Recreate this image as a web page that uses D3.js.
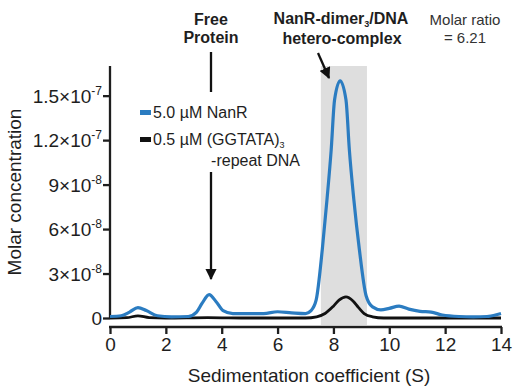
<!DOCTYPE html>
<html>
<head>
<meta charset="utf-8">
<script src="https://cdn.jsdelivr.net/npm/d3@7"></script>
<style>
  body { margin: 0; background: #fff; }
  svg { display: block; font-family: "Liberation Sans", Arial, sans-serif; }
</style>
</head>
<body>
<div class="chart"></div>
<script>
// sedimentation coefficient (S) and concentration in units of 1e-8 M
const nanrS = [0, 0.4, 0.7, 1.0, 1.3, 1.7, 2.2, 2.8, 3.1, 3.3, 3.55, 3.8, 4.05, 4.4, 5.0, 5.5, 6.0, 6.5, 7.0, 7.2, 7.38, 7.6, 7.77, 7.92, 8.04, 8.24, 8.45, 8.57, 8.73, 8.93, 9.17, 9.4, 9.7, 10.0, 10.35, 10.7, 11.1, 11.5, 11.9, 12.5, 13.0, 13.5, 13.9, 14];
const nanrConc = [0.1, 0.15, 0.4, 0.7, 0.5, 0.15, 0.08, 0.1, 0.4, 1.0, 1.58, 1.1, 0.5, 0.3, 0.3, 0.3, 0.42, 0.35, 0.3, 0.5, 1.2, 4.6, 8, 11.35, 14.7, 16.0, 14.7, 11.35, 8, 4.6, 1.5, 0.75, 0.55, 0.65, 0.8, 0.6, 0.45, 0.4, 0.2, 0.1, 0.08, 0.1, 0.25, 0.3];

const dnaS = [0, 0.6, 1.0, 1.4, 2.0, 3.5, 5.0, 7.0, 7.4, 7.7, 8.0, 8.2, 8.45, 8.7, 8.9, 9.1, 9.4, 9.8, 12, 14];
const dnaConc = [0, 0.02, 0.15, 0.03, 0, 0.03, 0, 0, 0.08, 0.3, 0.8, 1.2, 1.42, 1.15, 0.7, 0.3, 0.08, 0, 0, 0];

const xTicks = [0, 2, 4, 6, 8, 10, 12, 14];
const yTicks = [0, 3, 6, 9, 12, 15];
const yTickMantissa = ["0", "3", "6", "9", "1.2", "1.5"];
const yTickExp = ["", "-8", "-8", "-8", "-7", "-7"];
const complexBand = [7.55, 9.2];

const width = 519, height = 390;
const blue = "#2b7cc1";
const ink = "#1e1e1e";

const x = d3.scaleLinear().domain([0, 14]).range([110, 501]);
const y = d3.scaleLinear().domain([0, 17]).range([318, 66]);

const svg = d3.select(".chart").append("svg")
  .attr("width", width)
  .attr("height", height);

// shaded complex region
svg.append("rect")
  .attr("x", x(complexBand[0]))
  .attr("y", y(17))
  .attr("width", x(complexBand[1]) - x(complexBand[0]))
  .attr("height", 325 - y(17))
  .attr("fill", "#dedede");

// y axis
const yAxisG = svg.append("g").attr("transform", "translate(110,0)");
yAxisG.call(d3.axisLeft(y).tickValues(d3.range(0, 17.01, 0.5)).tickSize(4).tickFormat(""));
yAxisG.call(d3.axisLeft(y).tickValues(yTicks).tickSize(7).tickSizeOuter(0).tickFormat(""));
yAxisG.selectAll("path, line").attr("stroke", ink).attr("stroke-width", 2.3);
yAxisG.selectAll(".domain").attr("d", `M0,${y(17)}V${y(0) + 1}`);
yAxisG.selectAll(".tick text").remove();

const yLab = yAxisG.append("g").attr("fill", ink).attr("font-size", 19).attr("text-anchor", "end");
yTicks.forEach((v, i) => {
  const t = yLab.append("text")
    .attr("x", -8)
    .attr("y", y(v) + 7);
  if (yTickExp[i] === "") {
    t.text(yTickMantissa[i]);
  } else {
    t.append("tspan").text(`${yTickMantissa[i]}×10`);
    t.append("tspan").attr("font-size", 12).attr("dy", -8).text(yTickExp[i]);
  }
});

// x axis (offset below)
const xAxisG = svg.append("g").attr("transform", "translate(0,327)");
xAxisG.call(d3.axisBottom(x).tickValues(d3.range(0, 14.01, 0.5)).tickSize(4).tickFormat(""));
xAxisG.call(d3.axisBottom(x).tickValues(xTicks).tickSize(7).tickSizeOuter(0).tickPadding(4));
xAxisG.selectAll("path, line").attr("stroke", ink).attr("stroke-width", 2.3);
xAxisG.selectAll(".domain").attr("d", `M${x(0) - 1},0H${x(14) + 1}`);
xAxisG.selectAll(".tick text")
  .attr("fill", ink)
  .attr("font-size", 19)
  .attr("font-family", "Liberation Sans, Arial, sans-serif");

// axis titles
svg.append("text")
  .attr("x", 309).attr("y", 382)
  .attr("text-anchor", "middle")
  .attr("font-size", 19)
  .attr("fill", ink)
  .text("Sedimentation coefficient (S)");

svg.append("text")
  .attr("transform", "translate(21,192) rotate(-90)")
  .attr("text-anchor", "middle")
  .attr("font-size", 19)
  .attr("fill", ink)
  .text("Molar concentration");

// curves
const line = d3.line()
  .x(d => x(d[0]))
  .y(d => y(d[1]))
  .curve(d3.curveMonotoneX);

svg.append("path")
  .datum(d3.zip(dnaS, dnaConc))
  .attr("fill", "none")
  .attr("stroke", "#111")
  .attr("stroke-width", 2.8)
  .attr("d", line);

svg.append("path")
  .datum(d3.zip(nanrS, nanrConc))
  .attr("fill", "none")
  .attr("stroke", blue)
  .attr("stroke-width", 3.2)
  .attr("stroke-linejoin", "round")
  .attr("d", line);

// legend
const legend = svg.append("g").attr("font-size", 16).attr("fill", ink);
legend.append("rect").attr("x", 140).attr("y", 110).attr("width", 11).attr("height", 5).attr("fill", blue);
legend.append("text").attr("x", 153).attr("y", 118).text("5.0 µM NanR");
legend.append("rect").attr("x", 140).attr("y", 137).attr("width", 11).attr("height", 5).attr("fill", "#111");
const dnaLab = legend.append("text").attr("x", 153).attr("y", 145);
dnaLab.append("tspan").text("0.5 µM (GGTATA)");
dnaLab.append("tspan").attr("font-size", 9).attr("dy", 3).text("3");
legend.append("text").attr("x", 300).attr("y", 166).attr("text-anchor", "end").text("-repeat DNA");

// annotations
const ann = svg.append("g").attr("fill", ink).attr("font-size", 16);
ann.append("text").attr("x", 211).attr("y", 25).attr("text-anchor", "middle").attr("font-weight", "bold").text("Free");
ann.append("text").attr("x", 211).attr("y", 43).attr("text-anchor", "middle").attr("font-weight", "bold").text("Protein");

const cpx = ann.append("text").attr("x", 341).attr("y", 24).attr("text-anchor", "middle").attr("font-weight", "bold");
cpx.append("tspan").text("NanR-dimer");
cpx.append("tspan").attr("font-size", 9).attr("dy", 3).text("3");
cpx.append("tspan").attr("dy", -3).text("/DNA");
ann.append("text").attr("x", 342).attr("y", 44).attr("text-anchor", "middle").attr("font-weight", "bold").text("hetero-complex");

ann.append("text").attr("x", 465).attr("y", 25).attr("text-anchor", "middle").attr("font-size", 15).attr("fill", "#333").text("Molar ratio");
ann.append("text").attr("x", 465).attr("y", 43).attr("text-anchor", "middle").attr("font-size", 15).attr("fill", "#333").text("= 6.21");

// arrows
svg.append("defs").append("marker")
  .attr("id", "head")
  .attr("viewBox", "0 0 10 10")
  .attr("refX", 9).attr("refY", 5)
  .attr("markerWidth", 5).attr("markerHeight", 5)
  .attr("markerUnits", "strokeWidth")
  .attr("orient", "auto")
  .append("path").attr("d", "M0,0L10,5L0,10Z").attr("fill", "#111");

const arrows = svg.append("g").attr("stroke", "#111").attr("stroke-width", 2.3);
arrows.append("line").attr("x1", 211).attr("y1", 52).attr("x2", 211).attr("y2", 92);
arrows.append("line").attr("x1", 211).attr("y1", 172).attr("x2", 211).attr("y2", 279).attr("marker-end", "url(#head)");
arrows.append("line").attr("x1", 318).attr("y1", 53).attr("x2", 329).attr("y2", 78).attr("marker-end", "url(#head)");
</script>
</body>
</html>
